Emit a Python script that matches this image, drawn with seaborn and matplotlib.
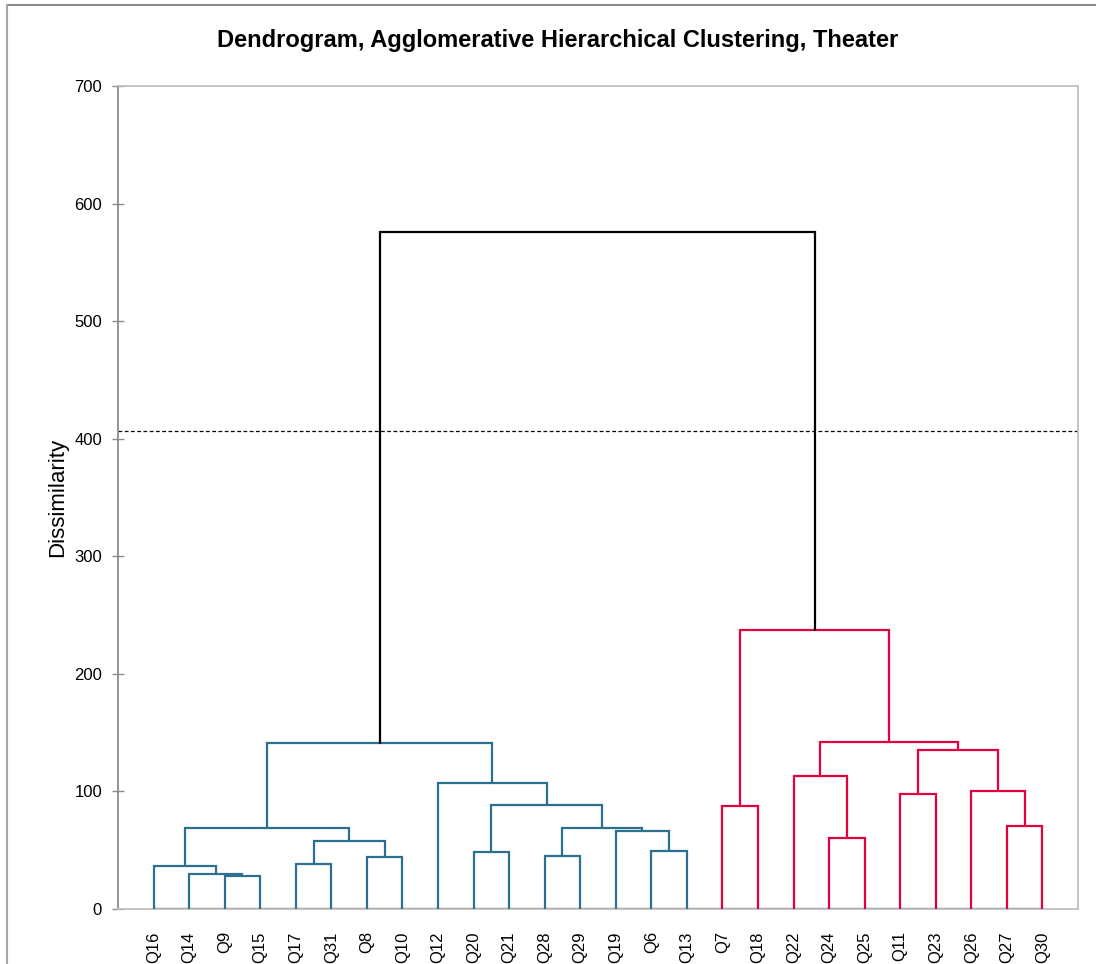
import matplotlib
matplotlib.use('Agg')
import matplotlib.pyplot as plt
from matplotlib.lines import Line2D
import seaborn as sns

# leaf order as shown on the x axis
leaves = ['Q16', 'Q14', 'Q9', 'Q15', 'Q17', 'Q31', 'Q8', 'Q10', 'Q12', 'Q20',
          'Q21', 'Q28', 'Q29', 'Q19', 'Q6', 'Q13', 'Q7', 'Q18', 'Q22', 'Q24',
          'Q25', 'Q11', 'Q23', 'Q26', 'Q27', 'Q30']

# merges: (left, right, new cluster name, dissimilarity)
merge_left = ['Q9', 'Q14', 'Q16', 'Q17', 'Q8', 'C4', 'C3', 'Q20', 'Q28', 'Q6',
              'Q19', 'C9', 'C8', 'Q12', 'C7', 'Q7', 'Q24', 'Q22', 'Q11', 'Q27',
              'Q26', 'C19', 'C18', 'C16', 'C15']
merge_right = ['Q15', 'C1', 'C2', 'Q31', 'Q10', 'C5', 'C6', 'Q21', 'Q29', 'Q13',
               'C10', 'C11', 'C12', 'C13', 'C14', 'Q18', 'Q25', 'C17', 'Q23', 'Q30',
               'C20', 'C21', 'C22', 'C23', 'C24']
merge_name = ['C%d' % i for i in range(1, 26)]
merge_height = [28.3, 29.7, 36.8, 38.3, 44.5, 58.1, 69.2, 48.5, 45.1, 49.6,
                66.3, 68.6, 88.7, 107.4, 141.0, 87.9, 60.1, 113.4, 98.1, 70.6,
                100.4, 135.2, 142.0, 237.3, 575.8]

cut_level = 406.6
cluster_colors = {'C15': '#2C6F8F', 'C24': '#E3003F'}
root_color = '#000000'

sns.set_theme(style='white')
plt.rcParams['font.family'] = ['Liberation Sans', 'DejaVu Sans']
plt.rcParams['text.color'] = 'black'
plt.rcParams['axes.labelcolor'] = 'black'
plt.rcParams['xtick.color'] = 'black'
plt.rcParams['ytick.color'] = 'black'

fig = plt.figure(figsize=(10.96, 9.64), dpi=100)
ax = fig.add_axes([118 / 1096, 1 - 909 / 964, 960 / 1096, 823 / 964])

pos = {name: i for i, name in enumerate(leaves)}
height = {name: 0.0 for name in leaves}
children = {}
for a, b, c, h in zip(merge_left, merge_right, merge_name, merge_height):
    pos[c] = (pos[a] + pos[b]) / 2
    height[c] = h
    children[c] = (a, b)


def paint(node, color, out):
    out[node] = color
    for ch in children.get(node, ()):
        paint(ch, color, out)


colors = {}
for c in merge_name:
    colors[c] = root_color
for top, col in cluster_colors.items():
    paint(top, col, colors)

for a, b, c, h in zip(merge_left, merge_right, merge_name, merge_height):
    ax.plot([pos[a], pos[a], pos[b], pos[b]],
            [height[a], h, h, height[b]],
            color=colors[c], lw=1.6, solid_joinstyle='miter', zorder=3)

# baseline under the leaves
ax.plot([0, len(leaves) - 1], [0, 0], color='#333333', lw=1.6, zorder=2)
ax.axhline(cut_level, color='black', lw=0.9, ls=(0, (3, 2)), zorder=2)

ax.set_xlim(-1, len(leaves))
ax.set_ylim(0, 700)
ax.set_yticks(range(0, 701, 100))
ax.set_xticks(range(len(leaves)))
ax.set_xticklabels(leaves, rotation=90, fontsize=12)
ax.tick_params(axis='y', direction='inout', length=9, width=1,
               color='#8C8C8C', labelcolor='black', labelsize=12, left=True, pad=7)
ax.tick_params(axis='x', bottom=False, pad=10, labelcolor='black')
ax.set_ylabel('Dissimilarity', fontsize=16, labelpad=4, color='black')
fig.text(558 / 1096, 1 - 41 / 964,
         'Dendrogram, Agglomerative Hierarchical Clustering, Theater',
         fontsize=17, fontweight='bold', ha='center', va='center', color='black')

ax.spines['left'].set_color('#8C8C8C')
ax.spines['left'].set_linewidth(1.3)
for s in ('top', 'right', 'bottom'):
    ax.spines[s].set_color('#BFBFBF')
    ax.spines[s].set_linewidth(1.3)

# outer chart frame (top and left edge)
fig.add_artist(Line2D([6.5 / 1096, 1], [1 - 4.5 / 964, 1 - 4.5 / 964],
                      transform=fig.transFigure, color='#8C8C8C', lw=1.5))
fig.add_artist(Line2D([6.5 / 1096, 6.5 / 1096], [0, 1 - 4.5 / 964],
                      transform=fig.transFigure, color='#A6A6A6', lw=1.5))

fig.savefig('out.png', dpi=100)
